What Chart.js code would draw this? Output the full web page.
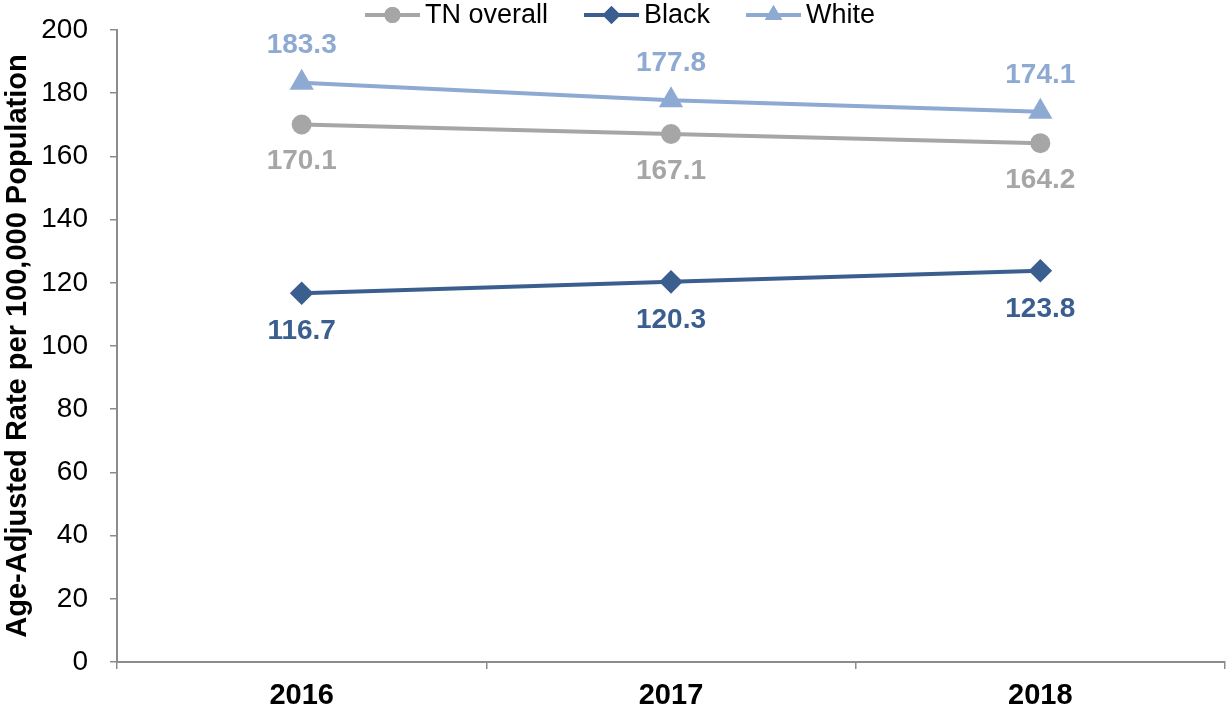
<!DOCTYPE html>
<html>
<head>
<meta charset="utf-8">
<script src="https://cdn.jsdelivr.net/npm/chart.js@4/dist/chart.umd.min.js"></script>
<style>
  html, body { margin: 0; padding: 0; background: #ffffff; }
  #wrap { width: 1227px; height: 709px; position: relative; }
</style>
</head>
<body>
<div id="wrap"><canvas id="chart" width="1227" height="709"></canvas></div>
<script>
// Age-adjusted rates per 100,000 population, by year
const years = ['2016', '2017', '2018'];
const tnOverall = [170.1, 167.1, 164.2];
const black = [116.7, 120.3, 123.8];
const white = [183.3, 177.8, 174.1];
const yTicks = { min: 0, max: 200, step: 20 };

const seriesNames = ['TN overall', 'Black', 'White'];
const colors = { tn: '#A6A6A6', black: '#3A5F8F', white: '#8EA9D2' };
const FONT = '"Liberation Sans", Arial, sans-serif';

// Value labels: above for White, below for the other two series
const valueLabels = {
  id: 'valueLabels',
  afterDatasetsDraw(chart) {
    const ctx = chart.ctx;
    const y = chart.scales.y, x = chart.scales.x;
    ctx.save();
    ctx.font = 'bold 28px ' + FONT;
    ctx.textAlign = 'center';
    ctx.textBaseline = 'middle';
    chart.data.datasets.forEach(ds => {
      ds.data.forEach((v, i) => {
        const px = x.getPixelForValue(i);
        const py = y.getPixelForValue(v) + ds.labelOffset;
        ctx.fillStyle = ds.borderColor;
        ctx.fillText(v.toFixed(1), px, py);
      });
    });
    ctx.restore();
  }
};

// Legend drawn as line segment with marker in the middle
const lineLegend = {
  id: 'lineLegend',
  afterDraw(chart) {
    const ctx = chart.ctx;
    ctx.save();
    ctx.font = '27px ' + FONT;
    ctx.textBaseline = 'middle';
    const seg = 55, gapText = 5, gapItem = 36;
    const items = chart.data.datasets.map(ds => ({ ds, w: ctx.measureText(ds.label).width }));
    const total = items.reduce((s, it) => s + seg + gapText + it.w, 0) + gapItem * (items.length - 1);
    let cx = 620 - total / 2;
    const cy = 15;
    items.forEach(it => {
      const ds = it.ds;
      ctx.strokeStyle = ds.borderColor;
      ctx.lineWidth = 4;
      ctx.beginPath();
      ctx.moveTo(cx, cy);
      ctx.lineTo(cx + seg, cy);
      ctx.stroke();
      ctx.fillStyle = ds.borderColor;
      ctx.beginPath();
      Chart.helpers.drawPoint(ctx, {
        pointStyle: ds.pointStyle, radius: ds.pointRadius, rotation: 0, borderWidth: 0
      }, cx + seg / 2, cy);
      ctx.fill();
      ctx.fillStyle = '#000000';
      ctx.fillText(ds.label, cx + seg + gapText, cy + 1);
      cx += seg + gapText + it.w + gapItem;
    });
    ctx.restore();
  }
};

function series(label, data, color, style, radius, offset) {
  return {
    label, data,
    borderColor: color, backgroundColor: color,
    pointBackgroundColor: color, pointBorderColor: color,
    borderWidth: 4, pointStyle: style, pointRadius: radius, pointHoverRadius: radius,
    tension: 0, labelOffset: offset
  };
}

new Chart(document.getElementById('chart'), {
  type: 'line',
  data: {
    labels: years,
    datasets: [
      series(seriesNames[0], tnOverall, colors.tn, 'circle', 8, 37),
      series(seriesNames[1], black, colors.black, 'rectRot', 9, 38),
      series(seriesNames[2], white, colors.white, 'triangle', 10, -37)
    ]
  },
  options: {
    responsive: false,
    animation: false,
    events: [],
    layout: { autoPadding: false, padding: { top: 30, right: 2, left: 0, bottom: 0 } },
    plugins: { legend: { display: false }, tooltip: { enabled: false } },
    scales: {
      x: {
        offset: true,
        grid: { offset: true, drawOnChartArea: false, drawTicks: true, tickLength: 7, color: '#8C8C8C', lineWidth: 1.5 },
        border: { display: true, color: '#8C8C8C', width: 2 },
        ticks: { color: '#000000', font: { family: FONT, size: 29, weight: 'bold' }, padding: 10 },
        afterFit(scale) { scale.height = 47; scale.paddingLeft = 0; scale.paddingRight = 0; }
      },
      y: {
        min: yTicks.min, max: yTicks.max,
        grid: { drawOnChartArea: false, drawTicks: true, tickLength: 7, color: '#8C8C8C', lineWidth: 1.5 },
        border: { display: true, color: '#8C8C8C', width: 2 },
        ticks: { stepSize: yTicks.step, color: '#000000', font: { family: FONT, size: 28 }, padding: 22 },
        title: {
          display: true, text: 'Age-Adjusted Rate per 100,000 Population',
          color: '#000000', font: { family: FONT, size: 29, weight: 'bold' }, padding: { top: 1, bottom: 0 }
        },
        afterFit(scale) { scale.width = 117; scale.paddingTop = 0; scale.paddingBottom = 0; }
      }
    }
  },
  plugins: [valueLabels, lineLegend]
});
</script>
</body>
</html>
